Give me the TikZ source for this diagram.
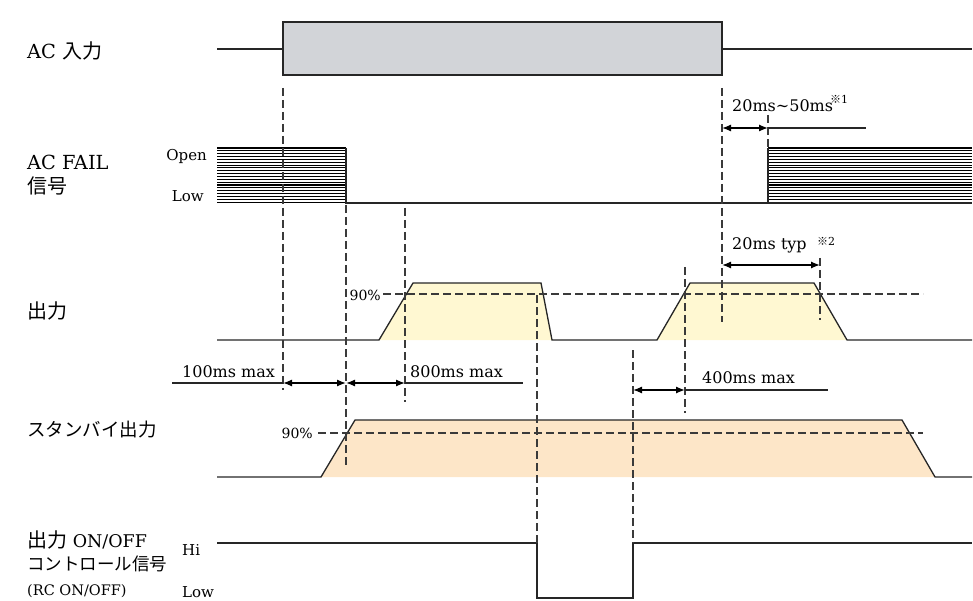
\documentclass[tikz,border=0pt]{standalone}
\usepackage{fontspec}
\setmainfont{DejaVu Serif}
\newfontfamily\jp{Noto Sans CJK JP}
\usetikzlibrary{arrows.meta}
\definecolor{acgray}{HTML}{D2D4D8}
\definecolor{outyel}{HTML}{FFF8D2}
\definecolor{sbyor}{HTML}{FDE6C8}
\definecolor{dashgray}{HTML}{3A3A3A}
\begin{document}
\begin{tikzpicture}[x=1pt,y=-1pt,
  sig/.style={line width=1.3pt, black!85},
  guide/.style={line width=1.1pt, dashgray, dash pattern=on 8pt off 4pt},
  dimarrow/.style={line width=1.3pt, {Latex[length=9pt,width=7pt]}-{Latex[length=9pt,width=7pt]}},
  hatch/.style={line width=1.1pt, black},
  lab/.style={inner sep=0pt, font=\fontsize{19.4}{22}\selectfont},
  jplab/.style={inner sep=0pt, font=\jp\fontsize{20}{22}\selectfont},
  lvl/.style={inner sep=0pt, font=\fontsize{15}{18}\selectfont},
  dimlab/.style={inner sep=0pt, font=\fontsize{16}{18}\selectfont},
  pct/.style={inner sep=0pt, font=\fontsize{14}{16}\selectfont},
  note/.style={inner sep=0pt, font=\fontsize{11}{13}\selectfont}
]
\useasboundingbox (0,0) rectangle (973,601);

% ---------- AC input ----------
\draw[sig] (217,49) -- (283,49);
\draw[sig, fill=acgray] (283,22) rectangle (722,75);
\draw[sig] (722,49) -- (972,49);

% ---------- AC FAIL ----------
\foreach \i in {0,...,19} {
  \draw[hatch] (217,148+\i*2.85) -- (346,148+\i*2.85);
  \draw[hatch] (768,148+\i*2.85) -- (972,148+\i*2.85);
}
\draw[sig] (346,148) -- (346,203) -- (972,203);
\draw[sig] (768,148) -- (768,203);

% ---------- Output ----------
\fill[outyel] (379,340) -- (413,283) -- (541,283) -- (552,340) -- cycle;
\fill[outyel] (657,340) -- (690,283) -- (814,283) -- (847,340) -- cycle;
\draw[sig] (217,340) -- (379,340) -- (413,283) -- (541,283) -- (552,340)
  -- (657,340) -- (690,283) -- (814,283) -- (847,340) -- (972,340);
\draw[guide] (383,294) -- (923,294);

% ---------- Standby output ----------
\fill[sbyor] (321,477) -- (355,420) -- (902,420) -- (935,477) -- cycle;
\draw[sig] (217,477) -- (321,477) -- (355,420) -- (902,420) -- (935,477) -- (972,477);
\draw[guide] (318,433) -- (923,433);

% ---------- RC ON/OFF ----------
\draw[sig] (217,543) -- (537,543) -- (537,598) -- (633,598) -- (633,543) -- (972,543);

% ---------- guide lines ----------
\draw[guide] (283,88) -- (283,390);
\draw[guide] (346,205) -- (346,466);
\draw[guide] (405,208) -- (405,402);
\draw[guide] (722,88) -- (722,322);
\draw[guide] (768,115) -- (768,148);
\draw[guide] (537,295) -- (537,543);
\draw[guide] (633,350) -- (633,543);
\draw[guide] (685,267) -- (685,413);
\draw[guide] (820,258) -- (820,320);

% ---------- dimension arrows ----------
\draw[sig] (172,383) -- (283,383);
\draw[dimarrow] (283,383) -- (346,383);
\draw[dimarrow] (346,383) -- (405,383);
\draw[sig] (405,383) -- (523,383);
\draw[dimarrow] (722,128) -- (768,128);
\draw[sig] (768,128) -- (866,128);
\draw[dimarrow] (722,265) -- (820,265);
\draw[dimarrow] (633,390) -- (685,390);
\draw[sig] (685,390) -- (828,390);

% ---------- labels ----------
\node[lab, anchor=base west] (lac) at (27,59) {AC {\jp\fontsize{20}{22}\selectfont 入力}};
\node[lab, anchor=base west] (lfail) at (27,170) {AC FAIL};
\node[jplab, anchor=west] (lfail2) at (27,186) {信号};
\node[jplab, anchor=west] (lout) at (27,311) {出力};
\node[inner sep=0pt, font=\jp\fontsize{18.5}{22}\selectfont, anchor=west] (lsby) at (27,430) {スタンバイ出力};
\node[inner sep=0pt, anchor=base west, font=\fontsize{17.5}{20}\selectfont] (lrc1) at (27,547) {{\jp\fontsize{20}{22}\selectfont 出力} ON/OFF};
\node[inner sep=0pt, font=\jp\fontsize{17.5}{20}\selectfont, anchor=west] (lrc2) at (27,564) {コントロール信号};
\node[inner sep=0pt, anchor=base west, font=\fontsize{14.5}{17}\selectfont] (lrc3) at (27,595) {(RC ON/OFF)};

\node[lvl, anchor=base east] (lopen) at (207,161) {Open};
\node[lvl, anchor=base east] (llow) at (204,202) {Low};
\node[lvl, anchor=base west] (lhi) at (182,555) {Hi};
\node[lvl, anchor=base west] (llow2) at (182,597) {Low};

\node[pct, anchor=base east] (p1) at (381,300) {90\%};
\node[pct, anchor=base east] (p2) at (313,438) {90\%};

\node[dimlab, anchor=base west] (d100) at (182,377) {100ms max};
\node[dimlab, anchor=base west] (d800) at (410,377) {800ms max};
\node[dimlab, anchor=base west] (d400) at (702,383) {400ms max};
\node[dimlab, anchor=base west] (d20) at (732,250) {20ms typ};
\node[dimlab, anchor=base west] (d2050) at (732,112) {20ms\textasciitilde 50ms};
\node[note, anchor=base west] (n1) at (830,104) {{\jp ※}1};
\node[note, anchor=base west] (n2) at (817,246) {{\jp ※}2};
\end{tikzpicture}
\end{document}
